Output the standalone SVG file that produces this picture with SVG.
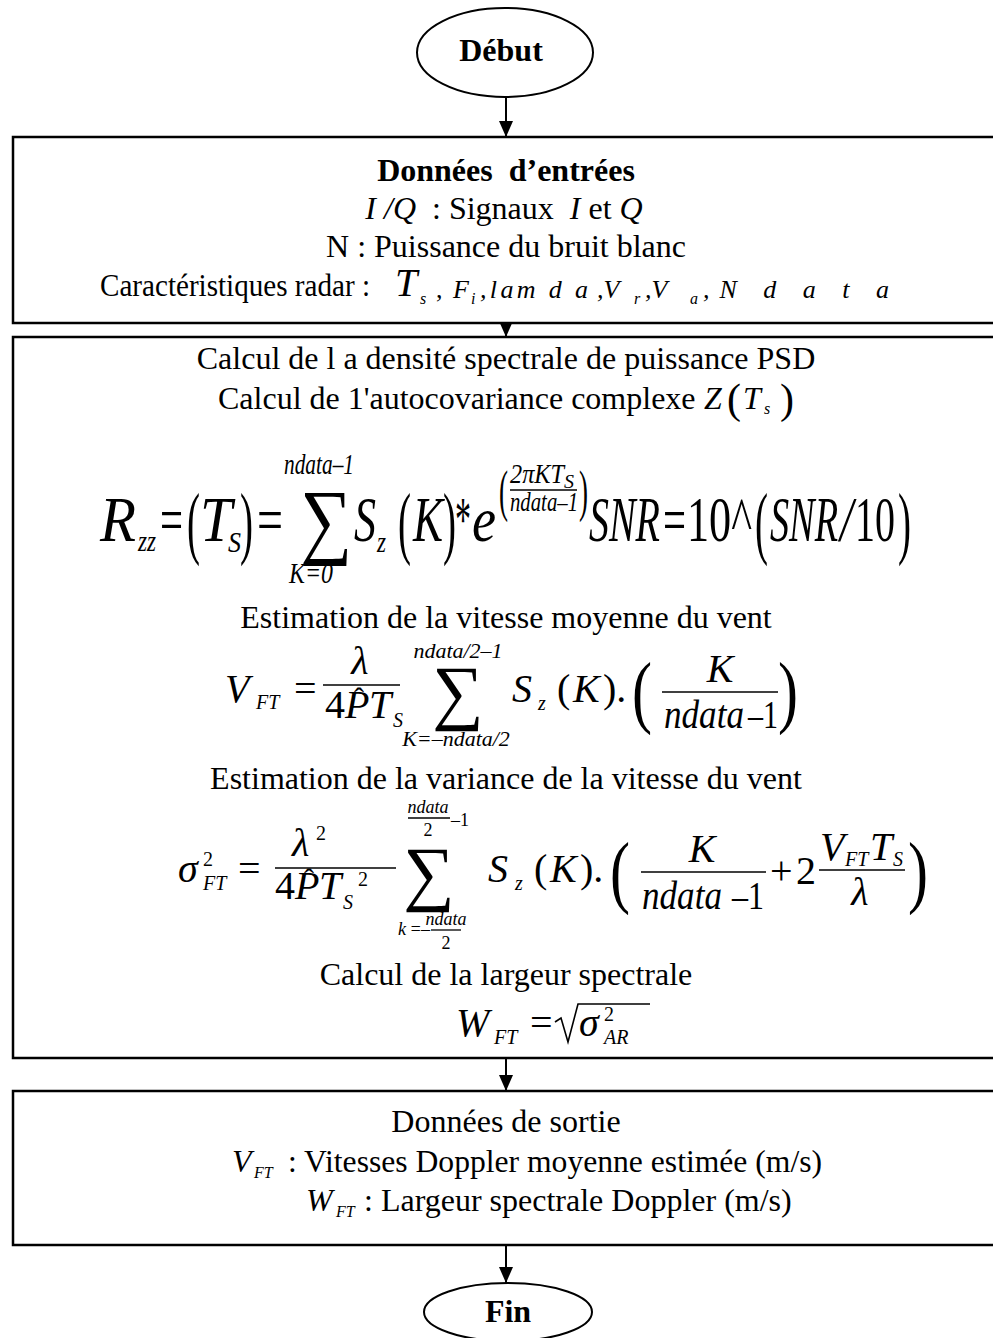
<svg xmlns="http://www.w3.org/2000/svg" width="993" height="1338" viewBox="0 0 993 1338" font-size="32">
<defs>
<style>
.t{font-family:"Liberation Serif","DejaVu Serif",serif;fill:#000}
.b{font-weight:bold}
.i{font-style:italic}
.c{text-anchor:middle}
.box{fill:#fff;stroke:#000;stroke-width:2.5}
.con{stroke:#000;stroke-width:2;fill:none}
.bar{stroke:#000;stroke-width:1.3}
</style>
<marker id="ah" viewBox="0 0 16 14" refX="16" refY="7" markerWidth="16" markerHeight="14" markerUnits="userSpaceOnUse" orient="auto">
<path d="M0,0 L16,7 L0,14 Z" fill="#000"/>
</marker>
</defs>
<rect width="993" height="1338" fill="#fff"/>

<g id="connectors">
<line class="con" x1="506" y1="97" x2="506" y2="137" marker-end="url(#ah)"/>
<line class="con" x1="506" y1="323" x2="506" y2="337" marker-end="url(#ah)"/>
<line class="con" x1="506" y1="1058" x2="506" y2="1091" marker-end="url(#ah)"/>
<line class="con" x1="506" y1="1245" x2="506" y2="1283" marker-end="url(#ah)"/>
</g>

<g id="debut">
<ellipse cx="505" cy="52.5" rx="88" ry="44.5" fill="#fff" stroke="#000" stroke-width="2"/>
<text class="t b c" x="501" y="61">Début</text>
</g>

<g id="entrees">
<rect class="box" x="13" y="137" width="992" height="186"/>
<text class="t b c" x="506" y="181" xml:space="preserve">Données  d’entrées</text>
<text class="t c" x="504" y="219" xml:space="preserve"><tspan class="i">I /Q</tspan>  : Signaux  <tspan class="i">I</tspan> et <tspan class="i">Q</tspan></text>
<text class="t c" x="506" y="257">N : Puissance du bruit blanc</text>
<text class="t" x="100" y="296" textLength="270" lengthAdjust="spacingAndGlyphs">Caractéristiques radar :</text>
<text class="t i" x="395" y="296" font-size="40">T</text>
<text class="t i" x="420" y="304" font-size="16">s</text>
<text class="t" x="436" y="298" font-size="26">,</text>
<text class="t i" x="453" y="298" font-size="26">F</text>
<text class="t i" x="471" y="304" font-size="16">i</text>
<text class="t i" x="480" y="298" font-size="26" textLength="108" lengthAdjust="spacing">,lam d a</text>
<text class="t i" x="597" y="298" font-size="26">,V</text>
<text class="t i" x="634" y="304" font-size="16">r</text>
<text class="t i" x="645" y="298" font-size="26">,V</text>
<text class="t i" x="690" y="304" font-size="16">a</text>
<text class="t i" x="703" y="298" font-size="26" textLength="186" lengthAdjust="spacing">,N d a t a</text>
</g>

<g id="calcul">
<rect class="box" x="13" y="337" width="992" height="721"/>
<text class="t c" x="506" y="369">Calcul de l a densité spectrale de puissance PSD</text>
<text class="t" x="218" y="409">Calcul de 1'autocovariance complexe </text>
<text class="t i" x="704" y="409">Z</text>
<text class="t" x="727" y="413" font-size="42">(</text>
<text class="t i" x="743" y="409">T</text>
<text class="t i" x="764" y="414" font-size="16">s</text>
<text class="t" x="780" y="413" font-size="42">)</text>

<!-- formula 1 -->
<g id="f1">
<text class="t i" x="100" y="541" font-size="64" textLength="36" lengthAdjust="spacingAndGlyphs">R</text>
<text class="t i" x="138" y="551" font-size="30" textLength="18" lengthAdjust="spacingAndGlyphs">zz</text>
<text class="t" x="160" y="541" font-size="64" textLength="23" lengthAdjust="spacingAndGlyphs">=</text>
<text class="t" x="187" y="549" font-size="80" textLength="13" lengthAdjust="spacingAndGlyphs">(</text>
<text class="t i" x="200" y="541" font-size="64" textLength="32" lengthAdjust="spacingAndGlyphs">T</text>
<text class="t i" x="228" y="552" font-size="30" textLength="13" lengthAdjust="spacingAndGlyphs">S</text>
<text class="t" x="240" y="549" font-size="80" textLength="13" lengthAdjust="spacingAndGlyphs">)</text>
<text class="t" x="257" y="541" font-size="64" textLength="26" lengthAdjust="spacingAndGlyphs">=</text>
<text class="t" x="300" y="548" font-size="84" textLength="52" lengthAdjust="spacingAndGlyphs">∑</text>
<text class="t i" x="284" y="474" font-size="30" textLength="70" lengthAdjust="spacingAndGlyphs">ndata–1</text>
<text class="t i" x="289" y="583" font-size="30" textLength="44" lengthAdjust="spacingAndGlyphs">K=0</text>
<text class="t i" x="354" y="541" font-size="64" textLength="22" lengthAdjust="spacingAndGlyphs">S</text>
<text class="t i" x="377" y="552" font-size="30" textLength="9" lengthAdjust="spacingAndGlyphs">z</text>
<text class="t" x="398" y="549" font-size="80" textLength="13" lengthAdjust="spacingAndGlyphs">(</text>
<text class="t i" x="413" y="541" font-size="64" textLength="30" lengthAdjust="spacingAndGlyphs">K</text>
<text class="t" x="443" y="549" font-size="80" textLength="13" lengthAdjust="spacingAndGlyphs">)</text>
<text class="t" x="455" y="541" font-size="64" textLength="16" lengthAdjust="spacingAndGlyphs">*</text>
<text class="t i" x="472" y="541" font-size="64" textLength="24" lengthAdjust="spacingAndGlyphs">e</text>
<text class="t" x="499" y="510" font-size="58" textLength="9" lengthAdjust="spacingAndGlyphs">(</text>
<text class="t i" x="510" y="483" font-size="28" textLength="54" lengthAdjust="spacingAndGlyphs">2πKT</text>
<text class="t i" x="564" y="488" font-size="18" textLength="10" lengthAdjust="spacingAndGlyphs">S</text>
<line class="bar" x1="510" y1="490" x2="577" y2="490"/>
<text class="t i" x="510" y="511" font-size="28" textLength="68" lengthAdjust="spacingAndGlyphs">ndata–1</text>
<text class="t" x="579" y="510" font-size="58" textLength="9" lengthAdjust="spacingAndGlyphs">)</text>
<text class="t i" x="589" y="541" font-size="64" textLength="71" lengthAdjust="spacingAndGlyphs">SNR</text>
<text class="t" x="663" y="541" font-size="64" textLength="23" lengthAdjust="spacingAndGlyphs">=</text>
<text class="t" x="687" y="541" font-size="64" textLength="65" lengthAdjust="spacingAndGlyphs">10^</text>
<text class="t" x="755" y="549" font-size="80" textLength="13" lengthAdjust="spacingAndGlyphs">(</text>
<text class="t i" x="770" y="541" font-size="64" textLength="68" lengthAdjust="spacingAndGlyphs">SNR</text>
<text class="t i" x="840" y="541" font-size="64" textLength="13" lengthAdjust="spacingAndGlyphs">/</text>
<text class="t" x="855" y="541" font-size="64" textLength="40" lengthAdjust="spacingAndGlyphs">10</text>
<text class="t" x="898" y="549" font-size="80" textLength="13" lengthAdjust="spacingAndGlyphs">)</text>
</g>

<text class="t c" x="506" y="628">Estimation de la vitesse moyenne du vent</text>

<!-- formula 2 -->
<g id="f2">
<text class="t i" x="225" y="702" font-size="40">V</text>
<text class="t i" x="256" y="709" font-size="20">FT</text>
<text class="t" x="294" y="702" font-size="40">=</text>
<text class="t i c" x="360" y="674" font-size="40">λ</text>
<line class="bar" x1="323" y1="685" x2="400" y2="685"/>
<text class="t" x="325" y="718" font-size="40">4</text>
<text class="t i" x="345" y="718" font-size="40">P</text>
<text class="t" x="354" y="708" font-size="30">ˆ</text>
<text class="t i" x="369" y="718" font-size="40">T</text>
<text class="t i" x="393" y="727" font-size="20">S</text>
<text class="t i c" x="458" y="658" font-size="22">ndata/2–1</text>
<text class="t c" x="458" y="716" font-size="72">∑</text>
<text class="t i c" x="456" y="746" font-size="22">K=–ndata/2</text>
<text class="t i" x="512" y="702" font-size="40">S</text>
<text class="t i" x="538" y="710" font-size="20">z</text>
<text class="t" x="557" y="702" font-size="40">(</text>
<text class="t i" x="573" y="702" font-size="40">K</text>
<text class="t" x="603" y="702" font-size="40">).</text>
<text class="t" x="632" y="718" font-size="80" textLength="20" lengthAdjust="spacingAndGlyphs">(</text>
<text class="t i c" x="720" y="682" font-size="40">K</text>
<line class="bar" x1="662" y1="692" x2="778" y2="692"/>
<text class="t i" x="664" y="728" font-size="40" textLength="80" lengthAdjust="spacingAndGlyphs">ndata</text>
<text class="t" x="748" y="728" font-size="40" textLength="30" lengthAdjust="spacingAndGlyphs">–1</text>
<text class="t" x="778" y="718" font-size="80" textLength="20" lengthAdjust="spacingAndGlyphs">)</text>
</g>

<text class="t c" x="506" y="789">Estimation de la variance de la vitesse du vent</text>

<!-- formula 3 -->
<g id="f3">
<text class="t i" x="178" y="882" font-size="40">σ</text>
<text class="t" x="203" y="866" font-size="20">2</text>
<text class="t i" x="203" y="890" font-size="20">FT</text>
<text class="t" x="238" y="882" font-size="40">=</text>
<text class="t i" x="292" y="856" font-size="40">λ</text>
<text class="t" x="316" y="840" font-size="20">2</text>
<line class="bar" x1="275" y1="868" x2="396" y2="868"/>
<text class="t" x="275" y="899" font-size="40">4</text>
<text class="t i" x="295" y="899" font-size="40">P</text>
<text class="t" x="304" y="889" font-size="30">ˆ</text>
<text class="t i" x="319" y="899" font-size="40">T</text>
<text class="t i" x="343" y="909" font-size="20">S</text>
<text class="t" x="358" y="886" font-size="20">2</text>
<text class="t i c" x="428" y="813" font-size="18">ndata</text>
<line class="bar" x1="408" y1="818" x2="450" y2="818"/>
<text class="t c" x="428" y="836" font-size="18">2</text>
<text class="t" x="451" y="826" font-size="18">–1</text>
<text class="t c" x="429" y="897" font-size="72">∑</text>
<text class="t i" x="398" y="935" font-size="18" textLength="32" lengthAdjust="spacing">k =–</text>
<text class="t i c" x="446" y="925" font-size="18">ndata</text>
<line class="bar" x1="431" y1="930" x2="461" y2="930"/>
<text class="t c" x="446" y="949" font-size="18">2</text>
<text class="t i" x="488" y="882" font-size="40">S</text>
<text class="t i" x="515" y="890" font-size="20">z</text>
<text class="t" x="534" y="882" font-size="40">(</text>
<text class="t i" x="550" y="882" font-size="40">K</text>
<text class="t" x="580" y="882" font-size="40">).</text>
<text class="t" x="610" y="898" font-size="80" textLength="20" lengthAdjust="spacingAndGlyphs">(</text>
<text class="t i c" x="702" y="862" font-size="40">K</text>
<line class="bar" x1="641" y1="872" x2="766" y2="872"/>
<text class="t i" x="642" y="909" font-size="40" textLength="80" lengthAdjust="spacingAndGlyphs">ndata</text>
<text class="t" x="732" y="909" font-size="40" textLength="32" lengthAdjust="spacingAndGlyphs">–1</text>
<text class="t" x="770" y="884" font-size="40">+</text>
<text class="t" x="796" y="884" font-size="40">2</text>
<text class="t i" x="820" y="860" font-size="40">V</text>
<text class="t i" x="845" y="866" font-size="20">FT</text>
<text class="t i" x="870" y="860" font-size="40">T</text>
<text class="t i" x="893" y="866" font-size="20">S</text>
<line class="bar" x1="819" y1="870" x2="905" y2="870"/>
<text class="t i c" x="860" y="905" font-size="40">λ</text>
<text class="t" x="908" y="898" font-size="80" textLength="20" lengthAdjust="spacingAndGlyphs">)</text>
</g>

<text class="t c" x="506" y="985">Calcul de la largeur spectrale</text>

<!-- formula 4 -->
<g id="f4">
<text class="t i" x="456" y="1036" font-size="40">W</text>
<text class="t i" x="494" y="1044" font-size="20">FT</text>
<text class="t" x="530" y="1036" font-size="40">=</text>
<path d="M555,1022 L561,1018 L568,1042 L578,1004 L650,1004" fill="none" stroke="#000" stroke-width="1.6"/>
<text class="t i" x="579" y="1036" font-size="40">σ</text>
<text class="t" x="604" y="1021" font-size="20">2</text>
<text class="t i" x="604" y="1044" font-size="20">AR</text>
</g>
</g>

<g id="sortie">
<rect class="box" x="13" y="1091" width="992" height="154"/>
<text class="t c" x="506" y="1132">Données de sortie</text>
<text class="t i" x="232" y="1172">V</text>
<text class="t i" x="254" y="1178" font-size="16">FT</text>
<text class="t" x="288" y="1172" textLength="534" lengthAdjust="spacingAndGlyphs">: Vitesses Doppler moyenne estimée (m/s)</text>
<text class="t i" x="306" y="1211">W</text>
<text class="t i" x="336" y="1217" font-size="16">FT</text>
<text class="t" x="364" y="1211">: Largeur spectrale Doppler (m/s)</text>
</g>

<g id="fin">
<ellipse cx="508" cy="1312" rx="84" ry="29" fill="#fff" stroke="#000" stroke-width="2"/>
<text class="t b c" x="508" y="1322">Fin</text>
</g>
</svg>
